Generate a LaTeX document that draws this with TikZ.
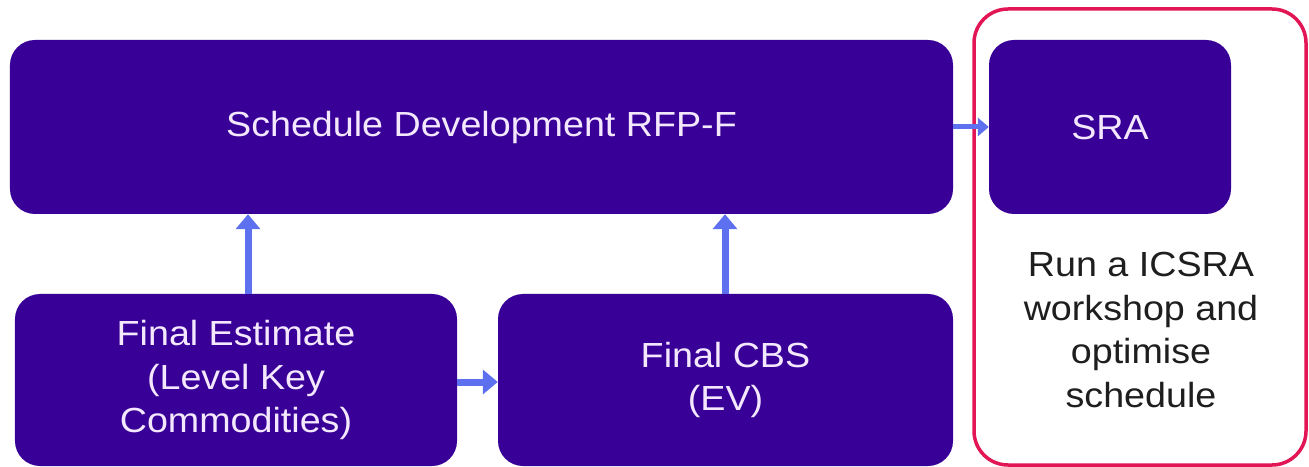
\documentclass[tikz,border=0pt]{standalone}
\usepackage{fontspec}
\setmainfont{Liberation Sans}
\newfontfamily\labelfont[FakeStretch=1.08]{Liberation Sans}
\usetikzlibrary{arrows.meta}
\definecolor{boxfill}{RGB}{56,0,150}
\definecolor{boxtext}{RGB}{244,232,255}
\definecolor{flow}{RGB}{92,112,240}
\definecolor{frame}{RGB}{226,22,84}
\definecolor{note}{RGB}{30,30,30}
\tikzset{
  stage/.style={fill=boxfill, rounded corners=25bp, text=boxtext,
    font=\labelfont\fontsize{35}{44}\selectfont, align=center, inner sep=0pt},
  flowarrow/.style={draw=flow, line width=7bp,
    -{Triangle[length=15bp,width=24bp]}},
  smallarrow/.style={draw=flow, line width=5bp,
    -{Triangle[length=11bp,width=18bp]}},
}
\begin{document}
\begin{tikzpicture}[x=1bp,y=-1bp]
  \useasboundingbox (0,0) rectangle (1309,467);

  % highlighted stage frame
  \draw[frame, line width=3.5bp, rounded corners=34bp] (974,9) rectangle (1306,465);

  % stages
  \node[stage, minimum width=943bp, minimum height=174bp] (sched) at (481.5,127)
    {Schedule Development RFP-F};
  \node[stage, minimum width=242bp, minimum height=174bp] (sra) at (1110,127) {SRA};
  \node[stage, minimum width=442bp, minimum height=172bp] (est) at (236,380)
    {Final Estimate\\(Level Key\\Commodities)};
  \node[stage, minimum width=455bp, minimum height=172bp] (cbs) at (725.5,380)
    {Final CBS\\(EV)};

  % note inside the frame
  \node[text=note, font=\labelfont\fontsize{35}{43.5}\selectfont, align=center]
    (workshop) at (1141,330)
    {Run a ICSRA\\workshop and\\optimise\\schedule};

  % connectors
  \draw[flowarrow] (est.north -| 248,0) -- (sched.south -| 248,0);
  \draw[flowarrow] (cbs.north -| 725,0) -- (sched.south -| 725,0);
  \draw[flowarrow] (est.east |- 0,382) -- (cbs.west |- 0,382);
  \draw[smallarrow] (sched.east) -- (sra.west);
\end{tikzpicture}
\end{document}
